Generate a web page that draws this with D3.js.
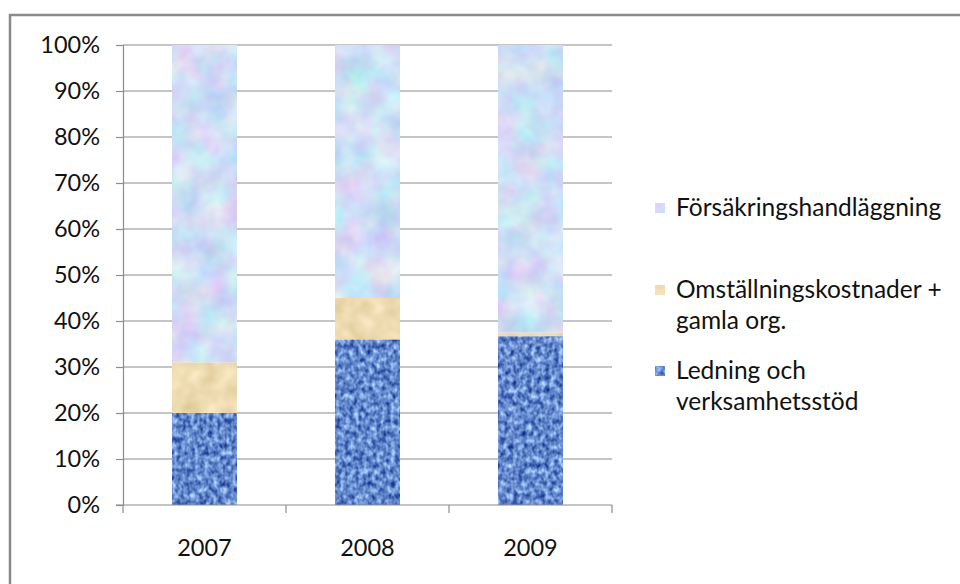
<!DOCTYPE html>
<html>
<head>
<meta charset="utf-8">
<script src="https://cdn.jsdelivr.net/npm/d3@7"></script>
<style>
  html, body { margin: 0; padding: 0; background: #fff; }
  svg { display: block; }
  text { font-family: Lato, "Noto Sans", sans-serif; fill: #111; }
</style>
</head>
<body>
<svg id="chart" width="960" height="584"></svg>
<script>
// Share of cost per year (percent of total)
const years = ["2007", "2008", "2009"];
const ledning = [20, 36, 36.7];          // Ledning och verksamhetsstöd
const omstallning = [11, 9, 0.8];        // Omställningskostnader + gamla org.
const forsakring = [69, 55, 62.5];       // Försäkringshandläggning
const seriesNames = ["Ledning och\nverksamhetsstöd", "Omställningskostnader +\ngamla org.", "Försäkringshandläggning"];
const yTicks = [0, 10, 20, 30, 40, 50, 60, 70, 80, 90, 100];

const svg = d3.select("#chart");
const defs = svg.append("defs");

// Noise-based fills approximating the woven / marbled textures
function noiseFilter(id, freq, octaves, seed, matrix) {
  const f = defs.append("filter").attr("id", id)
    .attr("x", 0).attr("y", 0).attr("width", 1).attr("height", 1)
    .attr("color-interpolation-filters", "sRGB");
  f.append("feTurbulence").attr("type", "fractalNoise")
    .attr("baseFrequency", freq).attr("numOctaves", octaves).attr("seed", seed).attr("result", "n");
  f.append("feColorMatrix").attr("in", "n").attr("type", "matrix").attr("values", matrix).attr("result", "c");
  f.append("feComposite").attr("in", "c").attr("in2", "SourceGraphic").attr("operator", "in");
}
noiseFilter("texBlue", "0.22 0.16", 2, 3,
  "0 0.95 0 0 -0.08  0 0.95 0 0 0.06  0 0.7 0 0 0.45  0 0 0 0 1");
noiseFilter("texTan", "0.06", 2, 5,
  "0.15 0 0 0 0.86  0.18 0 0 0 0.77  0.25 0 0 0 0.57  0 0 0 0 1");
noiseFilter("texLight", "0.035", 3, 9,
  "0.3 0 0 0 0.66  0 0.28 0 0 0.73  0 0 0.1 0 0.91  0 0 0 0 1");
const fills = ["url(#texBlue)", "url(#texTan)", "url(#texLight)"];
const baseColors = ["#4f74b8", "#f0dcb0", "#cad9f5"];

// Outer frame
svg.append("rect").attr("x", 10).attr("y", 15).attr("width", 980).attr("height", 600)
  .attr("fill", "none").attr("stroke", "#8a8a8a").attr("stroke-width", 2.5);

const plotLeft = 123, plotRight = 612, plotTop = 45, plotBottom = 505;
const x = d3.scaleBand().domain(years).range([plotLeft, plotRight]).paddingInner(0.6).paddingOuter(0.3);
const xOuter = d3.scaleBand().domain(years).range([plotLeft, plotRight]);
const y = d3.scaleLinear().domain([0, 100]).range([plotBottom, plotTop]);

// Gridlines
svg.append("g").selectAll("line").data(yTicks.filter(d => d > 0)).join("line")
  .attr("x1", plotLeft).attr("x2", plotRight)
  .attr("y1", d => y(d)).attr("y2", d => y(d))
  .attr("stroke", "#8c8c8c").attr("stroke-width", 1.2);

// Y axis
const yAxis = svg.append("g").attr("transform", `translate(${plotLeft},0)`)
  .call(d3.axisLeft(y).tickValues(yTicks).tickFormat(d => d + "%").tickSize(7).tickPadding(16));
yAxis.select(".domain").attr("stroke", "#8c8c8c").attr("stroke-width", 1.2);
yAxis.selectAll(".tick line").attr("stroke", "#8c8c8c").attr("stroke-width", 1.2);
yAxis.selectAll("text").attr("font-size", 23.5).attr("fill", "#111")
  .attr("font-family", "Lato, 'Noto Sans', sans-serif");

// Stacked bars
const rows = years.map((yr, i) => ({ year: yr, s0: ledning[i], s1: omstallning[i], s2: forsakring[i] }));
const stack = d3.stack().keys(["s0", "s1", "s2"])(rows);
const barW = 65;
stack.forEach((layer, k) => {
  svg.append("g").selectAll("rect").data(layer).join("rect")
    .attr("x", d => x(d.data.year) + x.bandwidth() / 2 - barW / 2)
    .attr("width", barW)
    .attr("y", d => y(d[1]))
    .attr("height", d => y(d[0]) - y(d[1]))
    .attr("fill", baseColors[k])
    .attr("filter", fills[k]);
});

// X axis
const xAxis = svg.append("g").attr("transform", `translate(0,${plotBottom})`);
xAxis.append("line").attr("x1", plotLeft - 7).attr("x2", plotRight).attr("y1", 0).attr("y2", 0)
  .attr("stroke", "#8c8c8c").attr("stroke-width", 1.2);
const bounds = [plotLeft].concat(years.map(d => xOuter(d) + xOuter.bandwidth()));
xAxis.selectAll("line.tk").data(bounds).join("line").attr("class", "tk")
  .attr("x1", d => d).attr("x2", d => d).attr("y1", 0).attr("y2", 8)
  .attr("stroke", "#8c8c8c").attr("stroke-width", 1.2);
xAxis.selectAll("text").data(years).join("text")
  .attr("x", d => xOuter(d) + xOuter.bandwidth() / 2).attr("y", 51)
  .attr("text-anchor", "middle").attr("font-size", 23.5).text(d => d);

// Legend
const legendY = [379, 298, 216];
const legend = svg.append("g");
seriesNames.forEach((name, k) => {
  const g = legend.append("g").attr("transform", `translate(655,${legendY[k]})`);
  g.append("rect").attr("x", 0).attr("y", -13).attr("width", 10).attr("height", 10)
    .attr("fill", baseColors[k]).attr("filter", fills[k]);
  name.split("\n").forEach((line, j) => {
    g.append("text").attr("x", 21).attr("y", j * 31).attr("font-size", 24.5).text(line);
  });
});
</script>
</body>
</html>
